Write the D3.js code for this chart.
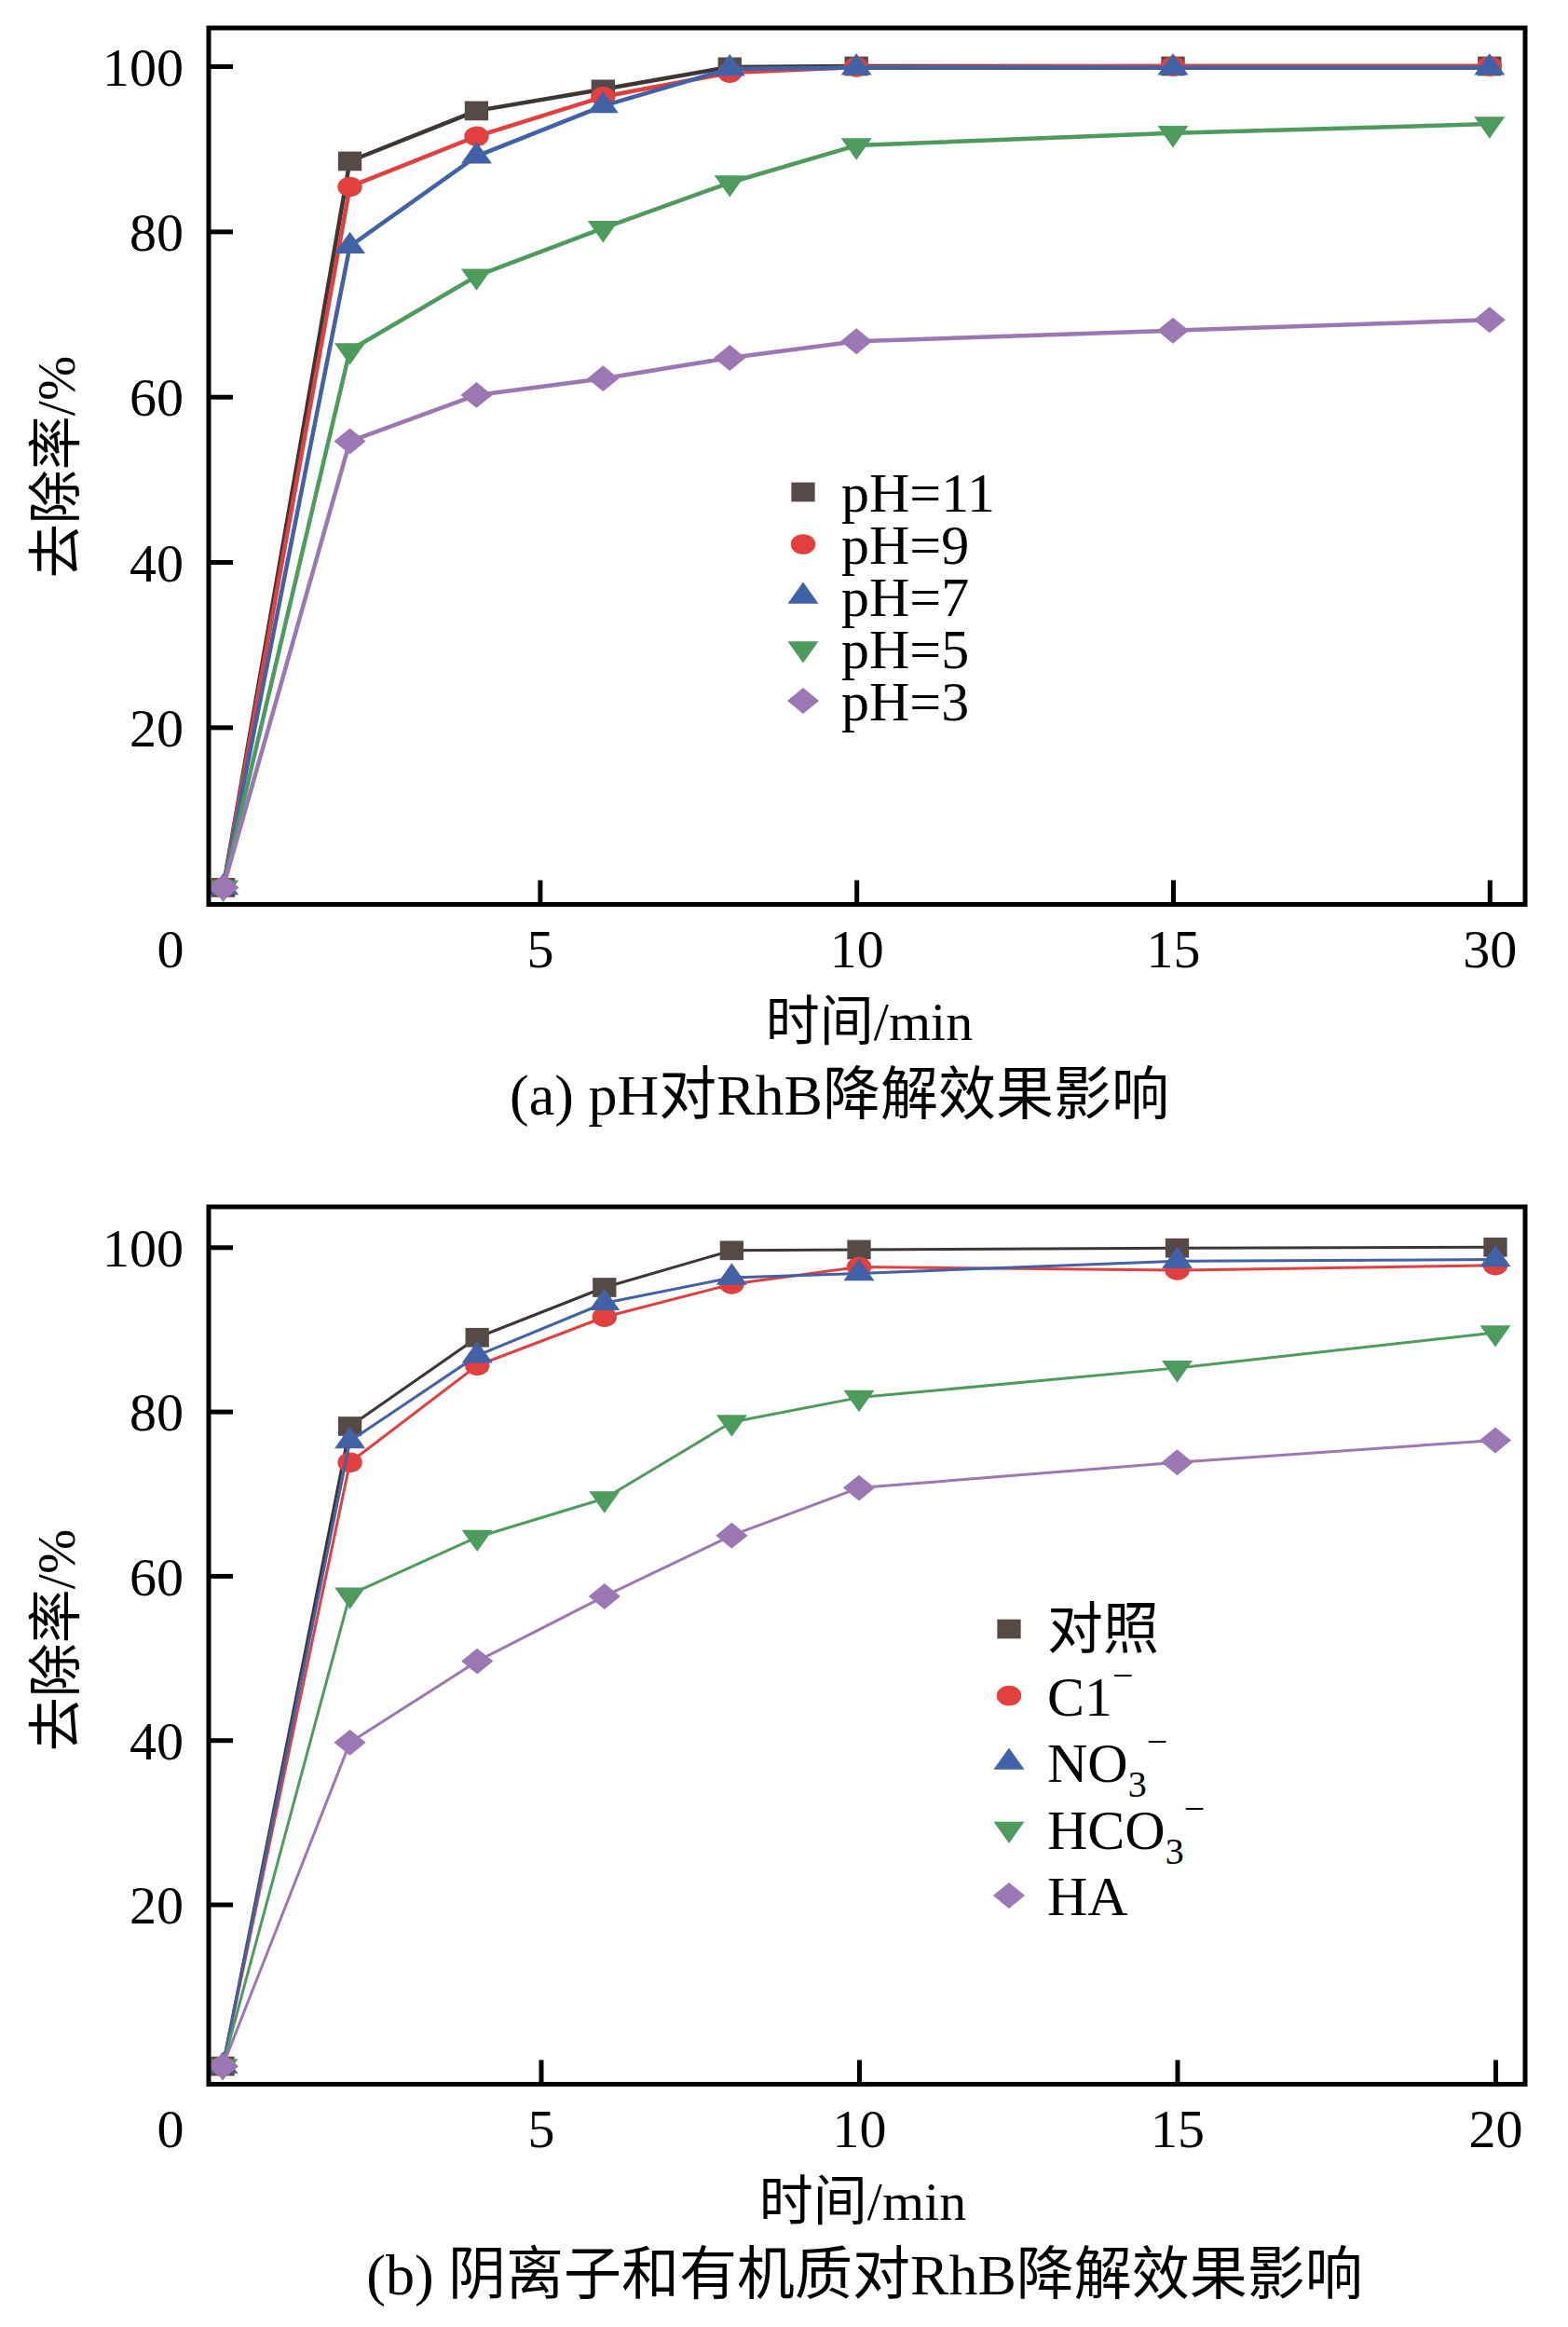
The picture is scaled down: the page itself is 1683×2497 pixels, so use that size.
<!DOCTYPE html>
<html>
<head>
<meta charset="utf-8">
<script src="https://cdn.jsdelivr.net/npm/d3@7"></script>
<style>
  body { margin: 0; background: #fff; }
  text { font-family: "Liberation Serif", "Noto Sans CJK SC", serif; fill: #000; }
</style>
</head>
<body>
<div id="main"></div>
<script>
// ---- data (a): pH ----
var timesA = [0, 2, 4, 6, 8, 10, 15, 30];
var pH11 = [0.6, 88.5, 94.6, 97.2, 99.9, 100, 100, 100];
var pH9  = [0.6, 85.4, 91.5, 96.3, 99.2, 99.9, 100, 100];
var pH7  = [0.6, 78.2, 89.1, 95.2, 99.7, 99.8, 99.8, 99.8];
var pH5  = [0.6, 65.6, 74.6, 80.4, 85.9, 90.4, 91.9, 93.0];
var pH3  = [0.6, 54.6, 60.2, 62.2, 64.7, 66.7, 68.0, 69.3];
var namesA = [["pH=11"], ["pH=9"], ["pH=7"], ["pH=5"], ["pH=3"]];
var xTicksA = [5, 10, 15, 30];

// ---- data (b): anions / organic matter ----
var timesB = [0, 2, 4, 6, 8, 10, 15, 20];
var ctrl = [0.3, 78.2, 89.0, 95.1, 99.6, 99.7, 99.9, 100];
var cl   = [0.3, 73.8, 85.6, 91.5, 95.5, 97.6, 97.2, 97.8];
var no3  = [0.3, 76.4, 86.8, 93.2, 96.3, 96.8, 98.3, 98.5];
var hco3 = [0.3, 57.7, 64.7, 69.4, 78.7, 81.7, 85.3, 89.6];
var ha   = [0.3, 39.7, 49.6, 57.5, 64.9, 70.7, 73.8, 76.5];
// [main text, subscript, superscript]
var namesB = [["对照"], ["C1", "", "−"], ["NO", "3", "−"], ["HCO", "3", "−"], ["HA"]];
var xTicksB = [5, 10, 15, 20];

var yTicks = [20, 40, 60, 80, 100];

var fills = ["#554a46", "#e2403f", "#4262a8", "#4e9b5e", "#9b77b3"];
var strokes = ["#3e3633", "#e2403f", "#4262a8", "#4e9b5e", "#9b77b3"];

var svg = d3.select("#main").append("svg")
  .attr("width", 1683)
  .attr("height", 2497)
  .style("background-color", "white");

// marker: square, circle, triangle up, triangle down, diamond
function marker(sel, i) {
  var types = [d3.symbolSquare, d3.symbolCircle, d3.symbolTriangle, d3.symbolTriangle, d3.symbolSquare];
  var sizes = [529, 452, 390, 390, 480];
  var rot = [0, 0, 0, 180, 45];
  sel.attr("d", d3.symbol().type(types[i]).size(sizes[i])())
    .attr("fill", fills[i]);
  return function(px, py) {
    return "translate(" + px + "," + py + ") scale(1.1,0.9) rotate(" + rot[i] + ")";
  };
}

function panel(o) {
  var x = d3.scaleLinear().domain(o.xDomain).range(o.xRange);
  var y = d3.scaleLinear().domain([0, 100]).range(o.yRange);
  var g = svg.append("g");

  // x axis (ticks inward)
  var ax = g.append("g")
    .attr("transform", "translate(0," + o.frame.bottom + ")")
    .call(d3.axisBottom(x).tickValues(o.xTicks).tickSizeInner(-26).tickSizeOuter(0).tickPadding(26));
  ax.select(".domain").remove();
  ax.selectAll("line").attr("stroke", "#000").attr("stroke-width", 5);
  ax.selectAll("text").style("font-size", "58px").attr("fill", "#000");

  // y axis
  var ay = g.append("g")
    .attr("transform", "translate(" + o.frame.left + ",0)")
    .call(d3.axisLeft(y).tickValues(yTicks).tickSizeInner(-26).tickSizeOuter(0).tickPadding(27));
  ay.select(".domain").remove();
  ay.selectAll("line").attr("stroke", "#000").attr("stroke-width", 5);
  ay.selectAll("text").style("font-size", "58px").attr("fill", "#000").attr("dy", "0.35em");

  // origin "0"
  g.append("text")
    .attr("x", 183).attr("y", o.frame.bottom + 67)
    .attr("text-anchor", "middle")
    .style("font-size", "58px")
    .text("0");

  // series
  var line = d3.line().x(function(d) { return x(d[0]); }).y(function(d) { return y(d[1]); });
  o.series.forEach(function(vals, i) {
    var pts = o.times.map(function(t, k) { return [t, vals[k]]; });
    g.append("path")
      .attr("d", line(pts))
      .attr("fill", "none")
      .attr("stroke", strokes[i])
      .attr("stroke-width", o.lineWidth)
      .attr("stroke-linejoin", "round");
    pts.forEach(function(p) {
      var m = g.append("path");
      var tf = marker(m, i);
      m.attr("transform", tf(x(p[0]), y(p[1])));
    });
  });

  // frame
  g.append("rect")
    .attr("x", o.frame.left).attr("y", o.frame.top)
    .attr("width", o.frame.right - o.frame.left)
    .attr("height", o.frame.bottom - o.frame.top)
    .attr("fill", "none").attr("stroke", "#000").attr("stroke-width", 5);

  // legend
  var lg = g.append("g");
  o.names.forEach(function(parts, i) {
    var ry = o.legend.y + i * o.legend.step;
    var m = lg.append("path");
    var tf = marker(m, i);
    m.attr("transform", tf(o.legend.x, ry));
    var t = lg.append("text")
      .attr("x", o.legend.x + 41).attr("y", ry)
      .attr("dy", "0.35em")
      .style("font-size", "60px");
    t.append("tspan").text(parts[0]);
    if (parts[1]) {
      t.append("tspan").attr("dy", 16).style("font-size", "40px").text(parts[1]);
    }
    if (parts[2]) {
      t.append("tspan").attr("dy", parts[1] ? -46 : -30).style("font-size", "40px").text(parts[2]);
    }
  });

  // axis titles
  g.append("text")
    .attr("transform", "translate(60," + o.yTitleY + ") rotate(-90)")
    .attr("text-anchor", "middle")
    .attr("dy", "0.35em")
    .style("font-size", "58px")
    .text("去除率/%");

  g.append("text")
    .attr("x", o.xTitleX).attr("y", o.frame.bottom + 145)
    .attr("text-anchor", "middle")
    .style("font-size", "58px")
    .text("时间/min");

  g.append("text")
    .attr("x", o.capX).attr("y", o.frame.bottom + 225)
    .attr("text-anchor", "middle")
    .style("font-size", "62px")
    .text(o.caption);
}

panel({
  frame: { left: 224, right: 1637, top: 30, bottom: 970.5 },
  times: timesA,
  xDomain: [0, 15, 30],
  xRange: [239.6, 1259, 1598.8],
  yRange: [957.7, 71],
  xTicks: xTicksA,
  series: [pH11, pH9, pH7, pH5, pH3],
  names: namesA,
  lineWidth: 4.5,
  legend: { x: 862, y: 528, step: 56 },
  yTitleY: 501,
  xTitleX: 933,
  capX: 901,
  caption: "(a) pH对RhB降解效果影响"
});

panel({
  frame: { left: 224, right: 1637, top: 1295, bottom: 2236.5 },
  times: timesB,
  xDomain: [0, 20],
  xRange: [239, 1605],
  yRange: [2219.8, 1338.3],
  xTicks: xTicksB,
  series: [ctrl, cl, no3, hco3, ha],
  names: namesB,
  lineWidth: 3,
  legend: { x: 1083, y: 1748, step: 71.5 },
  yTitleY: 1760,
  xTitleX: 926,
  capX: 928,
  caption: "(b) 阴离子和有机质对RhB降解效果影响"
});
</script>
</body>
</html>
